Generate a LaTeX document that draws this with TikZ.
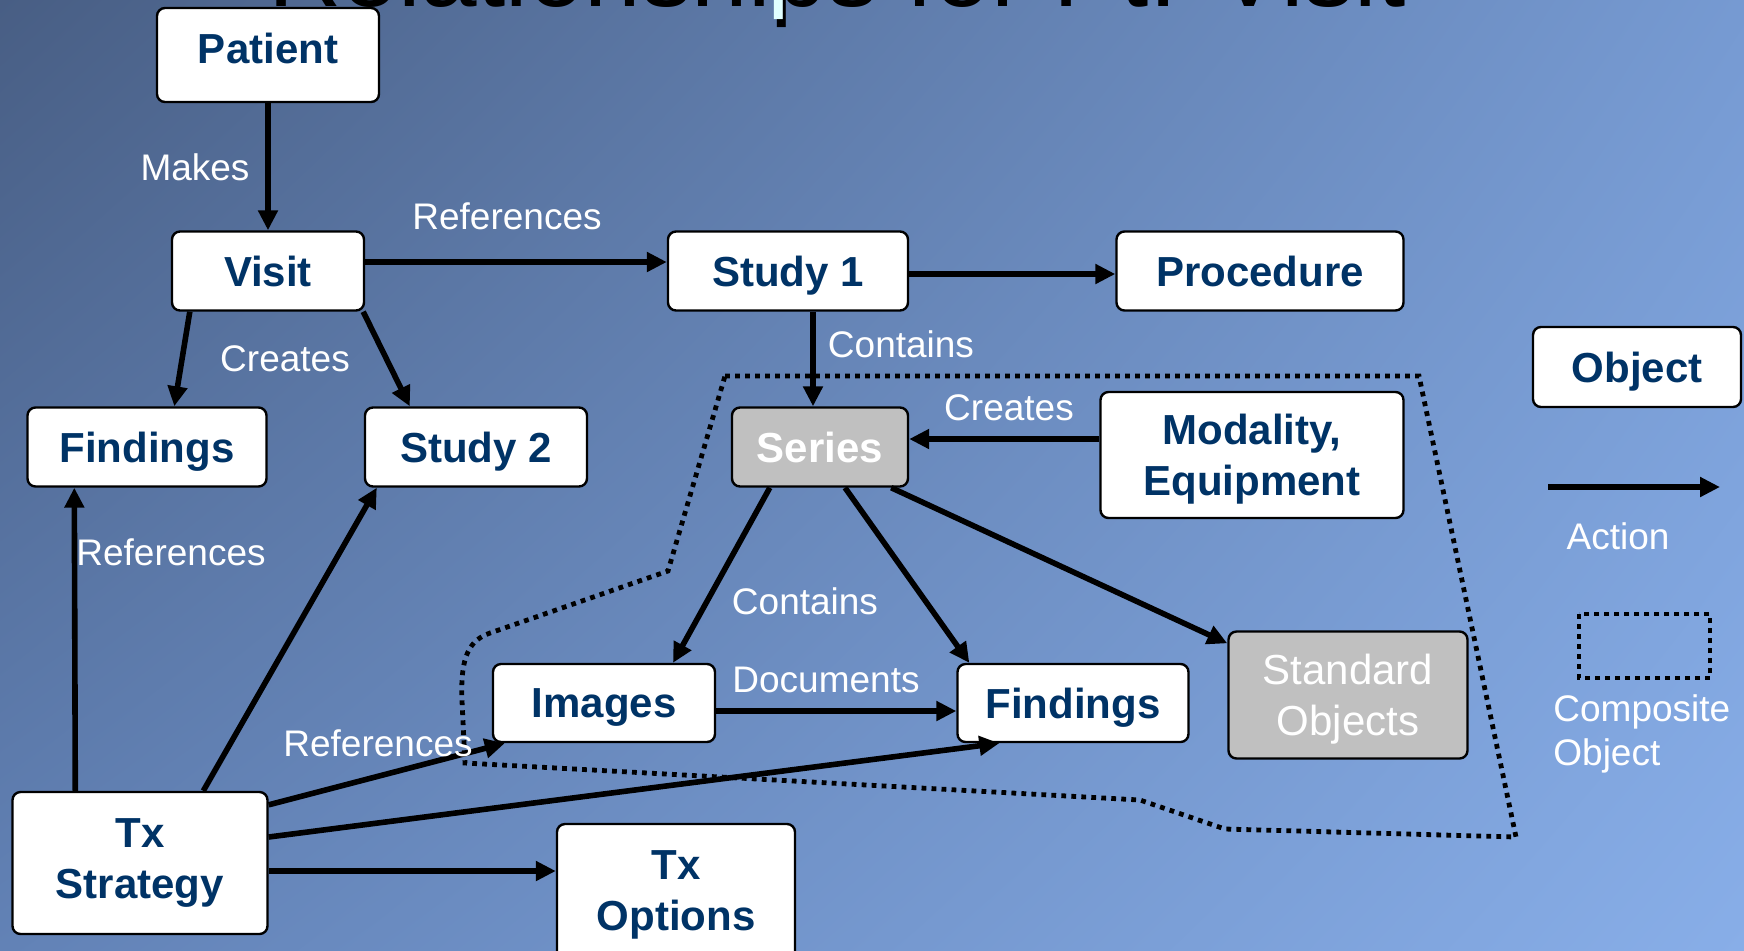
\documentclass[tikz,border=0pt]{standalone}
\usepackage{fontspec}
\setmainfont{Liberation Sans}
\usepackage{xcolor}
\usetikzlibrary{arrows.meta, shadings}

\definecolor{bgUL}{RGB}{72,94,132}
\definecolor{bgUR}{RGB}{118,154,210}
\definecolor{bgLL}{RGB}{98,130,182}
\definecolor{bgLR}{RGB}{136,174,232}
\definecolor{boxnavy}{RGB}{0,51,102}
\definecolor{boxgray}{RGB}{192,192,192}
\definecolor{titlecyan}{RGB}{225,255,255}

\newcommand{\objfont}{\bfseries\fontsize{21}{25.5}\selectfont}
\newcommand{\stdfont}{\fontsize{21}{25.5}\selectfont}
\newcommand{\actfont}{\fontsize{18.5}{22}\selectfont}
\newcommand{\titlefont}{\fontsize{50.8}{60}\selectfont}

\begin{document}
\begin{tikzpicture}[x=0.5pt, y=-0.5pt]
\tikzstyle{every node}+=[inner sep=0pt]
\tikzstyle{objtall}=[draw=black, line width=1.2pt, fill=white, rounded corners=4pt, text=boxnavy, font=\objfont, align=center]
\tikzstyle{obj}=[objtall, text depth=0pt]
\tikzstyle{grayobj}=[obj, fill=boxgray, text=white]
\tikzstyle{act}=[black, line width=2.8pt, -{Triangle[length=10pt, width=9.5pt]}]
\tikzstyle{lbl}=[text=white, font=\actfont]
\tikzstyle{composite}=[black, line width=2.4pt, dash pattern=on 2.4pt off 2.6pt]

\useasboundingbox (0,0) rectangle (1744,950);
\clip (0,0) rectangle (1744,950);
\shade [upper left=bgUL, upper right=bgUR, lower left=bgLL, lower right=bgLR] (0,0) rectangle (1744,950);

\node [anchor=base west, text=black, font=\titlefont] (titleshadow) at (268,6) {Relationships for Pt. Visit};
\node [anchor=base west, text=titlecyan, font=\titlefont] (title) at (265,-2) {Relationships for Pt. Visit};

\draw [composite] (725,376) -- (1419,376) -- (1516,837) -- (1225,829) -- (1140,800) -- (465,763) -- (462,701) .. controls (460,655) and (470,640) .. (490,633) -- (668,571) -- cycle;

\node [obj, text depth=7pt, minimum width=111pt, minimum height=47pt] (patient) at (268,55) {Patient};
\node [obj, minimum width=96pt, minimum height=39.5pt] (visit) at (268,271) {Visit};
\node [obj, minimum width=120pt, minimum height=39.5pt] (study1) at (788,271) {Study 1};
\node [obj, minimum width=143.5pt, minimum height=39.5pt] (procedure) at (1260,271) {Procedure};
\node [obj, minimum width=119.5pt, minimum height=39.5pt] (findL) at (147,447) {Findings};
\node [obj, minimum width=111pt, minimum height=39.5pt] (study2) at (476,447) {Study 2};
\node [grayobj, minimum width=88pt, minimum height=39.5pt] (series) at (820,447) {Series};
\node [obj, text depth=-5pt, minimum width=151.5pt, minimum height=63pt] (modality) at (1252,455) {Modality,\\Equipment};
\node [obj, minimum width=111pt, minimum height=39pt] (images) at (604,703) {Images};
\node [obj, minimum width=115.5pt, minimum height=39pt] (findR) at (1073,703) {Findings};
\node [grayobj, font=\stdfont, text depth=-2.5pt, minimum width=119.5pt, minimum height=63.5pt] (stdobj) at (1348,695) {Standard\\Objects};
\node [objtall, minimum width=127.5pt, minimum height=71pt] (txstrat) at (140,863) {Tx\\Strategy};
\node [objtall, minimum width=119pt, minimum height=71pt] (txopt) at (676,895) {Tx\\Options};

\draw [act] (patient) -- (visit);
\draw [act] ([yshift=4.5pt]visit.east) -- ([yshift=4.5pt]study1.west);
\draw [act] ([yshift=-1.5pt]study1.east) -- ([yshift=-1.5pt]procedure.west);
\draw [act] ([xshift=9.5pt]visit.south west) -- ([xshift=74pt]findL.north west);
\draw [act] ([xshift=-1pt]visit.south east) -- ([xshift=23pt]study2.north west);
\draw [act] ([xshift=12.5pt]study1.south) -- ([xshift=-3.5pt]series.north);
\draw [act] ([yshift=8pt]modality.west) -- ([yshift=4pt]series.east);
\draw [act] ([xshift=19.5pt]series.south west) -- ([xshift=34.5pt]images.north);
\draw [act] ([xshift=12.5pt]series.south) -- ([xshift=6.5pt]findR.north west);
\draw [act] ([xshift=-9pt]series.south east) -- ([yshift=-6.5pt]stdobj.north west);
\draw [act] ([yshift=-4pt]images.east) -- ([yshift=-4pt]findR.west);
\draw [act] ([xshift=32pt]txstrat.north west) -- ([xshift=24pt]findL.south west);
\draw [act] ([xshift=96pt]txstrat.north west) -- ([xshift=6.5pt]study2.south west);
\draw [act] ([yshift=-7pt]txstrat.north east) -- ([xshift=6.5pt]images.south west);
\draw [act] ([yshift=13pt]txstrat.east) -- ([xshift=21.5pt]findR.south west);
\draw [act] ([yshift=-4pt]txstrat.east) -- ([yshift=12pt]txopt.west);

\node [lbl] (makes) at (195,167) {Makes};
\node [lbl] (refVisit) at (507,216) {References};
\node [lbl] (createsVisit) at (285,359) {Creates};
\node [lbl] (containsStudy) at (901,344) {Contains};
\node [lbl] (createsSeries) at (1009,408) {Creates};
\node [lbl] (containsSeries) at (805,601) {Contains};
\node [lbl] (documents) at (826,680) {Documents};
\node [lbl] (refFind) at (171,552) {References};
\node [lbl] (refImages) at (378,743) {References};

\node [obj, minimum width=104pt, minimum height=40pt] (object) at (1637,367) {Object};
\coordinate (actA) at (1548,487);
\coordinate (actB) at (1720,487);
\draw [act] (actA) -- (actB);
\node [lbl] (action) at (1618,536) {Action};
\draw [composite] (1579,614) rectangle (1710,678);
\node [lbl, anchor=west, align=left] (compObj) at (1553,734) {Composite\\Object};
\end{tikzpicture}
\end{document}
